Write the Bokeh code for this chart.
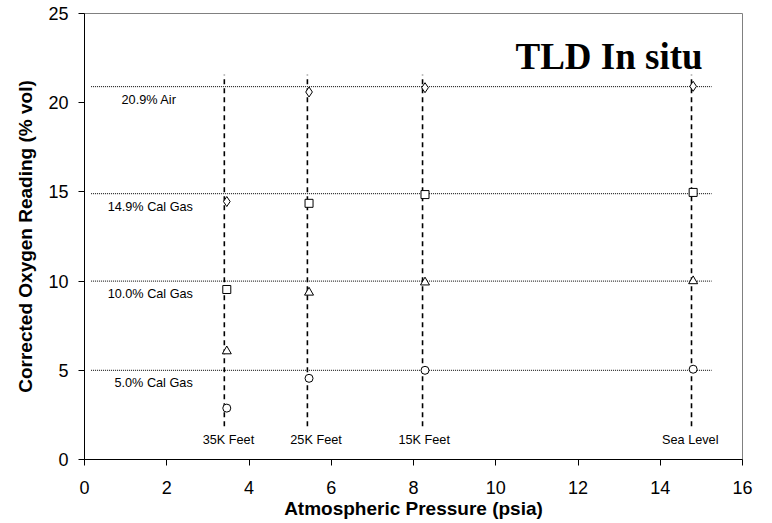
from bokeh.plotting import figure
from bokeh.models import Range1d, FixedTicker, ColumnDataSource
from bokeh.core.properties import value
from bokeh.embed import file_html
from bokeh.resources import INLINE

# ---- data ----
pressure = [3.46, 5.46, 8.28, 14.80]          # marker positions (psia)
line_pressure = [3.40, 5.42, 8.22, 14.76]     # dashed altitude lines
altitudes = ["35K Feet", "25K Feet", "15K Feet", "Sea Level"]
alt_label_x = [3.50, 5.63, 8.26, 14.73]

air_209 = [14.46, 20.60, 20.84, 20.92]        # diamonds
cal_149 = [9.53, 14.36, 14.85, 14.97]         # squares
cal_100 = [6.07, 9.36, 9.93, 10.00]           # triangles
cal_050 = [2.88, 4.55, 5.00, 5.06]            # circles

gas_levels = [20.9, 14.9, 10.0, 5.0]
gas_labels = ["20.9% Air", "14.9% Cal Gas", "10.0% Cal Gas", "5.0% Cal Gas"]
gas_label_x = [1.57, 1.60, 1.60, 1.68]
hline_x = [0.16, 15.25]
vline_y = [1.87, 21.57]
alt_label_y = 1.07

x_ticks = [0, 2, 4, 6, 8, 10, 12, 14, 16]
y_ticks = [0, 5, 10, 15, 20, 25]

p = figure(width=772, height=523, x_range=Range1d(0, 16), y_range=Range1d(0, 25),
           output_backend="svg", toolbar_location=None,
           min_border_left=84, min_border_right=30, min_border_top=13, min_border_bottom=64)
p.background_fill_color = "white"
p.border_fill_color = "white"
p.outline_line_color = "#808080"
p.outline_line_width = 1
p.xgrid.visible = False
p.ygrid.visible = False

for ax in (p.xaxis, p.yaxis):
    ax.axis_line_color = "black"
    ax.axis_line_width = 1
    ax.major_tick_line_color = "black"
    ax.major_tick_out = 6
    ax.major_tick_in = 0
    ax.minor_tick_line_color = None
    ax.major_label_text_font = "Liberation Sans"
    ax.major_label_text_font_size = "18px"
    ax.major_label_text_color = "black"
    ax.axis_label_text_font = "Liberation Sans"
    ax.axis_label_text_font_size = "19px"
    ax.axis_label_text_font_style = "bold"
    ax.axis_label_text_color = "black"

p.xaxis.ticker = FixedTicker(ticks=x_ticks)
p.yaxis.ticker = FixedTicker(ticks=y_ticks)
p.xaxis.axis_label = "Atmospheric Pressure (psia)"
p.yaxis.axis_label = "Corrected Oxygen Reading (% vol)"
p.xaxis.major_label_standoff = 15
p.yaxis.major_label_standoff = 10
p.xaxis.axis_label_standoff = 1
p.yaxis.axis_label_standoff = 9

# horizontal dotted gas lines
for g in gas_levels:
    p.line(hline_x, [g, g], line_color="black", line_width=1, line_dash="1 1")

# vertical dashed altitude lines
for lx in line_pressure:
    p.line([lx, lx], vline_y, line_color="black", line_width=1.6, line_dash="5 4")

# markers
mk = dict(line_color="black", fill_color="white", line_width=1)
p.scatter(pressure, air_209, marker="diamond", size=10, **mk)
p.scatter(pressure, cal_149, marker="square", size=8, **mk)
p.scatter(pressure, cal_100, marker="triangle", size=9, **mk)
p.scatter(pressure, cal_050, marker="circle", size=8, **mk)

# gas labels
gsrc = ColumnDataSource(dict(x=gas_label_x, y=gas_levels, t=gas_labels))
p.text(x="x", y="y", text="t", source=gsrc, text_align="center", text_baseline="alphabetic",
       y_offset=13, text_font=value("Liberation Sans"), text_font_size="12.7px", text_color="black")

# altitude labels
asrc = ColumnDataSource(dict(x=alt_label_x, y=[alt_label_y] * len(altitudes), t=altitudes))
p.text(x="x", y="y", text="t", source=asrc, text_align="center", text_baseline="alphabetic",
       text_font=value("Liberation Sans"), text_font_size="12.7px", text_color="black")

# title inside plot
p.text(x=[15.03], y=[22.6], text=["TLD In situ"], text_align="right", text_baseline="alphabetic",
       text_font=value("Liberation Serif"), text_font_size="37px", text_font_style="bold",
       text_color="black")

open("out.html", "w").write(file_html(p, INLINE))
